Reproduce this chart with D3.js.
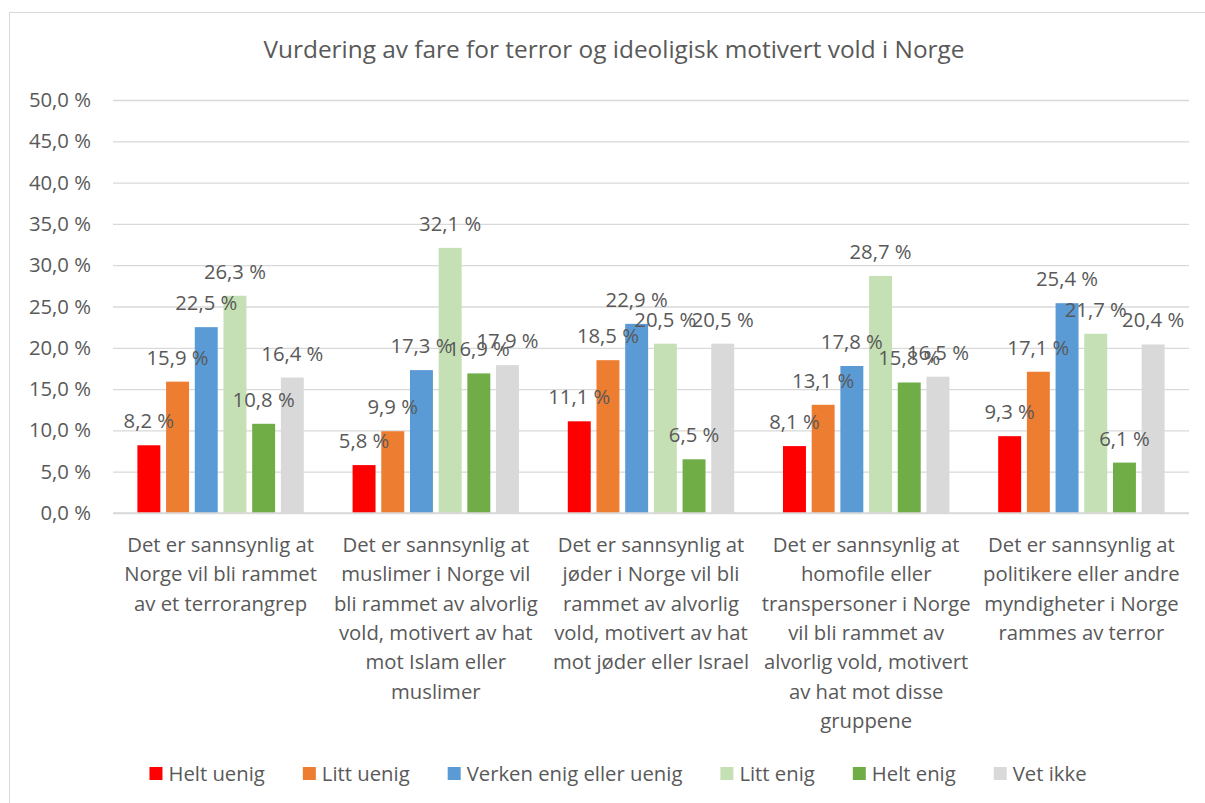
<!DOCTYPE html>
<html>
<head>
<meta charset="utf-8">
<script src="https://cdn.jsdelivr.net/npm/d3@7"></script>
<style>
  body { margin: 0; background: #fff; }
  text { font-family: "Open Sans", sans-serif; fill: #595959; }
</style>
</head>
<body>
<svg id="chart" width="1205" height="803"></svg>
<script>
const title = "Vurdering av fare for terror og ideoligisk motivert vold i Norge";

const categories = [
    "Det er sannsynlig at\nNorge vil bli rammet\nav et terrorangrep",
    "Det er sannsynlig at\nmuslimer i Norge vil\nbli rammet av alvorlig\nvold, motivert av hat\nmot Islam eller\nmuslimer",
    "Det er sannsynlig at\njøder i Norge vil bli\nrammet av alvorlig\nvold, motivert av hat\nmot jøder eller Israel",
    "Det er sannsynlig at\nhomofile eller\ntranspersoner i Norge\nvil bli rammet av\nalvorlig vold, motivert\nav hat mot disse\ngruppene",
    "Det er sannsynlig at\npolitikere eller andre\nmyndigheter i Norge\nrammes av terror"
];

const seriesNames = ["Helt uenig", "Litt uenig", "Verken enig eller uenig", "Litt enig", "Helt enig", "Vet ikke"];
const seriesColors = ["#ff0000", "#ed7d31", "#5b9bd5", "#c5e0b4", "#70ad47", "#d9d9d9"];

const heltUenig = [8.2, 5.8, 11.1, 8.1, 9.3];
const littUenig = [15.9, 9.9, 18.5, 13.1, 17.1];
const verken = [22.5, 17.3, 22.9, 17.8, 25.4];
const littEnig = [26.3, 32.1, 20.5, 28.7, 21.7];
const heltEnig = [10.8, 16.9, 6.5, 15.8, 6.1];
const vetIkke = [16.4, 17.9, 20.5, 16.5, 20.4];

const yTicks = [0, 5, 10, 15, 20, 25, 30, 35, 40, 45, 50];

const seriesValues = [heltUenig, littUenig, verken, littEnig, heltEnig, vetIkke];

const margin = {top: 100, right: 16, bottom: 290, left: 113};
const width = 1205, height = 803;
const fs = "20.3px";
const fmt = v => v.toFixed(1).replace(".", ",") + " %";

const svg = d3.select("#chart");

// outer chart border
svg.append("rect")
    .attr("x", 9.5).attr("y", 12.5)
    .attr("width", 1300).attr("height", 900)
    .attr("fill", "none")
    .attr("stroke", "#d9d9d9");

svg.append("text")
    .attr("x", 614).attr("y", 58)
    .attr("text-anchor", "middle")
    .style("font-size", "24.4px")
    .text(title);

const x0 = d3.scaleBand()
    .domain(d3.range(categories.length))
    .range([margin.left, width - margin.right]);

const x1 = d3.scaleBand()
    .domain(d3.range(seriesNames.length))
    .range([0, x0.bandwidth()])
    .paddingInner(0.2)
    .paddingOuter(0.85);

const y = d3.scaleLinear()
    .domain([0, 50])
    .range([height - margin.bottom, margin.top]);

// gridlines + y labels
const yAxis = svg.append("g")
    .attr("transform", `translate(${margin.left},0)`)
    .call(d3.axisLeft(y).tickValues(yTicks).tickSize(-(width - margin.right - margin.left)).tickFormat(fmt).tickPadding(22));
yAxis.select(".domain").remove();
yAxis.selectAll(".tick line").attr("stroke", "#d9d9d9").attr("stroke-width", 1.3);
yAxis.selectAll(".tick text").style("font-size", fs).attr("fill", "#595959").style("font-family", "'Open Sans', sans-serif");

// bars
const groups = svg.selectAll(".grp")
    .data(categories)
    .join("g")
    .attr("class", "grp")
    .attr("transform", (d, i) => `translate(${x0(i)},0)`);

groups.selectAll("rect")
    .data((d, i) => seriesValues.map((s, j) => ({s: j, v: s[i]})))
    .join("rect")
    .attr("x", d => x1(d.s))
    .attr("width", x1.bandwidth())
    .attr("y", d => y(d.v))
    .attr("height", d => y(0) - y(d.v))
    .attr("fill", d => seriesColors[d.s]);

// baseline
svg.append("line")
    .attr("x1", margin.left).attr("x2", width - margin.right)
    .attr("y1", y(0)).attr("y2", y(0))
    .attr("stroke", "#d9d9d9").attr("stroke-width", 1.5);

// data labels
groups.selectAll(".lbl")
    .data((d, i) => seriesValues.map((s, j) => ({s: j, v: s[i]})))
    .join("text")
    .attr("class", "lbl")
    .attr("x", d => x1(d.s) + x1.bandwidth() / 2)
    .attr("y", d => y(d.v) - 17)
    .attr("text-anchor", "middle")
    .style("font-size", fs)
    .text(d => fmt(d.v));

// category labels
const catText = svg.selectAll(".cat")
    .data(categories)
    .join("text")
    .attr("class", "cat")
    .attr("text-anchor", "middle")
    .style("font-size", fs);
catText.each(function(d, i) {
    const t = d3.select(this);
    d.split("\n").forEach((line, k) => {
        t.append("tspan")
            .attr("x", x0(i) + x0.bandwidth() / 2)
            .attr("y", 552 + k * 29.3)
            .text(line);
    });
});

// legend
const legend = svg.append("g");
const items = legend.selectAll("g")
    .data(seriesNames)
    .join("g");
items.append("rect")
    .attr("width", 13).attr("height", 13)
    .attr("y", 767)
    .attr("fill", (d, i) => seriesColors[i]);
items.append("text")
    .attr("x", 19).attr("y", 781)
    .style("font-size", fs)
    .text(d => d);
const widths = items.nodes().map(n => n.querySelector("text").getComputedTextLength());
const total = d3.sum(widths) + widths.length * 19 + (widths.length - 1) * 38;
let lx = 618 - total / 2;
items.each(function(d, i) {
    d3.select(this).attr("transform", `translate(${lx},0)`);
    lx += 19 + widths[i] + 38;
});
</script>
</body>
</html>
